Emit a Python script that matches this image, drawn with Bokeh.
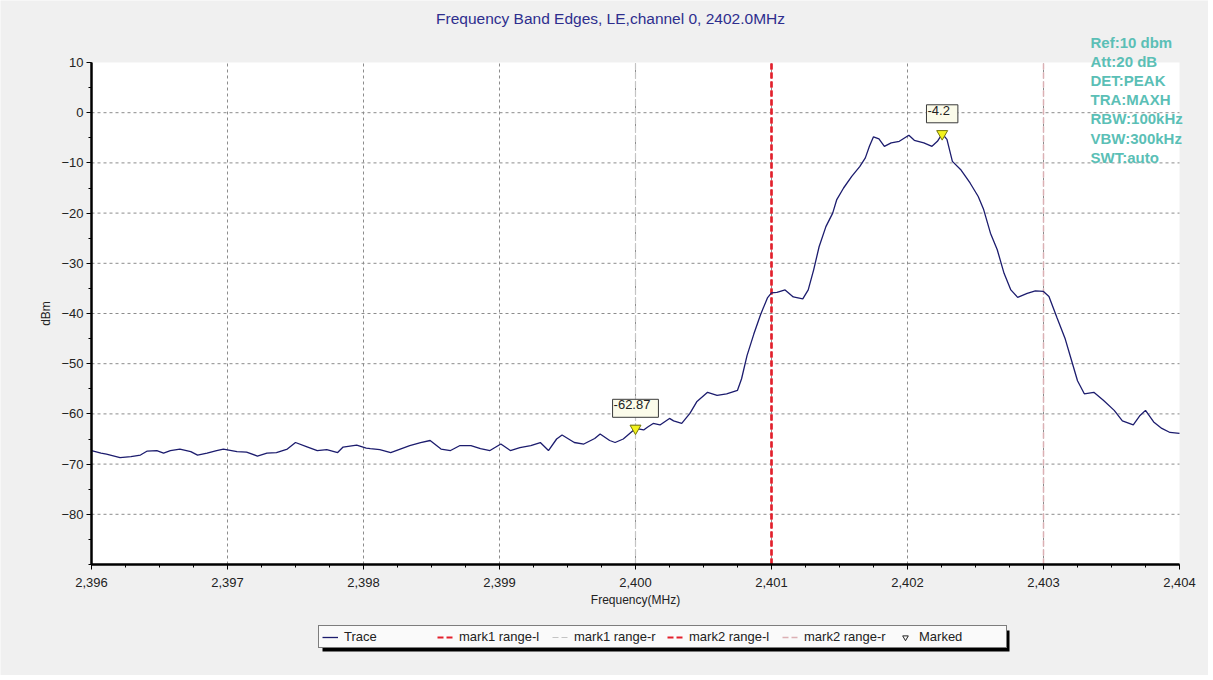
from bokeh.plotting import figure
from bokeh.models import (Range1d, FixedTicker, NumeralTickFormatter, Label,
                          Legend, LegendItem)
from bokeh.embed import file_html
from bokeh.resources import INLINE

# ---------------- data ----------------
freq_mhz = [
    2396.00, 2396.07, 2396.11, 2396.21, 2396.29, 2396.36, 2396.41, 2396.48,
    2396.53, 2396.58, 2396.65, 2396.73, 2396.78, 2396.85, 2396.92, 2396.97,
    2397.07, 2397.14, 2397.22, 2397.29, 2397.36, 2397.44, 2397.50, 2397.58,
    2397.66, 2397.73, 2397.81, 2397.85, 2397.95, 2398.02, 2398.05, 2398.12,
    2398.20, 2398.27, 2398.34, 2398.42, 2398.49, 2398.57, 2398.64, 2398.71,
    2398.79, 2398.86, 2398.93, 2399.01, 2399.08, 2399.15, 2399.23, 2399.30,
    2399.36, 2399.42, 2399.46, 2399.55, 2399.62, 2399.70, 2399.74, 2399.81,
    2399.85, 2399.91, 2400.00, 2400.06, 2400.09, 2400.13, 2400.18, 2400.25,
    2400.28, 2400.34, 2400.40, 2400.45, 2400.53, 2400.60, 2400.67, 2400.75,
    2400.78, 2400.82, 2400.87, 2400.92, 2400.97, 2401.00, 2401.04, 2401.10,
    2401.16, 2401.23, 2401.27, 2401.31, 2401.35, 2401.40, 2401.45, 2401.48,
    2401.53, 2401.59, 2401.65, 2401.69, 2401.72, 2401.75, 2401.79, 2401.83,
    2401.88, 2401.94, 2402.01, 2402.05, 2402.12, 2402.18, 2402.22, 2402.255,
    2402.29, 2402.33, 2402.39, 2402.46, 2402.52, 2402.56, 2402.61, 2402.66,
    2402.71, 2402.76, 2402.81, 2402.88, 2402.94, 2403.00, 2403.04, 2403.10,
    2403.16, 2403.21, 2403.25, 2403.30, 2403.37, 2403.44, 2403.52, 2403.58,
    2403.66, 2403.71, 2403.75, 2403.81, 2403.87, 2403.93, 2404.00,
]
level_dbm = [
    -67.3, -67.8, -68.0, -68.7, -68.5, -68.2, -67.4, -67.3,
    -67.8, -67.3, -67.0, -67.5, -68.2, -67.8, -67.3, -67.0,
    -67.5, -67.6, -68.4, -67.8, -67.7, -67.0, -65.7, -66.5,
    -67.3, -67.1, -67.7, -66.6, -66.2, -66.8, -66.9, -67.1,
    -67.7, -67.0, -66.3, -65.7, -65.3, -67.0, -67.3, -66.3,
    -66.3, -66.9, -67.3, -66.0, -67.3, -66.7, -66.3, -65.7,
    -67.3, -65.0, -64.2, -65.7, -66.0, -64.9, -64.0, -65.3,
    -65.7, -65.0, -62.9, -63.2, -62.6, -61.9, -62.2, -60.9,
    -61.4, -61.9, -59.9, -57.6, -55.7, -56.3, -56.0, -55.3,
    -53.0, -48.4, -44.1, -40.2, -36.9, -35.9, -35.8, -35.3,
    -36.7, -37.1, -35.3, -31.3, -26.7, -22.7, -20.0, -17.3,
    -15.0, -12.7, -10.7, -9.0, -6.7, -4.8, -5.2, -6.7,
    -6.0, -5.7, -4.5, -5.5, -6.0, -6.7, -5.7, -4.2,
    -5.3, -9.7, -11.3, -14.0, -16.7, -19.3, -24.0, -27.3,
    -32.0, -35.3, -36.8, -36.0, -35.5, -35.6, -36.6, -40.9,
    -45.1, -49.7, -53.4, -56.0, -55.7, -57.3, -59.3, -61.4,
    -62.2, -60.3, -59.3, -61.6, -62.9, -63.7, -63.9,
]

marked_freq = [2400.00, 2402.255]
marked_level = [-62.87, -4.2]
marked_text = ["-62.87", "-4.2"]

mark_names = ["mark1 range-l", "mark1 range-r", "mark2 range-l", "mark2 range-r"]
mark_freq = [2401.0, 2400.0, 2401.0, 2403.0]

x_ticks = [2396, 2397, 2398, 2399, 2400, 2401, 2402, 2403, 2404]
y_ticks = [10, 0, -10, -20, -30, -40, -50, -60, -70, -80]
x_lo, x_hi = 2396, 2404
y_lo, y_hi = -90, 10

title_text = "Frequency Band Edges, LE,channel 0, 2402.0MHz"
info_lines = ["Ref:10 dbm", "Att:20 dB", "DET:PEAK", "TRA:MAXH",
              "RBW:100kHz", "VBW:300kHz", "SWT:auto"]

# ---------------- layout / styles ----------------
FONT = "Liberation Sans"
W, H = 1208, 675
PLOT_L, PLOT_R, PLOT_T, PLOT_B = 91, 1179, 62, 564     # white plot area, px
px_per_x = (PLOT_R - PLOT_L) / (x_hi - x_lo)
px_per_y = (PLOT_B - PLOT_T) / (y_hi - y_lo)


def px_to_x(px):
    return x_lo + (px - PLOT_L) / px_per_x


def py_to_y(py):
    return y_lo - (py - PLOT_B) / px_per_y


# the frame covers the whole figure; axes are pinned to the plot-area edges,
# so that title, info text and legend around it are not clipped
view_x = (px_to_x(0), px_to_x(W))
view_y = (py_to_y(H), py_to_y(0))

mark_colors = ["#e3202c", "#c4c4c4", "#e3202c", "#dcb0b4"]
mark_widths = [2.2, 1.2, 2.2, 1.5]

p = figure(width=W, height=H,
           x_range=Range1d(*view_x), y_range=Range1d(*view_y),
           output_backend="svg", toolbar_location=None,
           min_border=0, min_border_left=0, min_border_right=0,
           min_border_top=0, min_border_bottom=0,
           background_fill_color="#f0f0f0", border_fill_color="#f0f0f0",
           outline_line_color=None)
p.grid.visible = False

# white plot area
p.quad(left=[x_lo], right=[x_hi], bottom=[y_lo], top=[y_hi],
       fill_color="white", line_color=None)

# dashed grid
p.multi_line(xs=[[t, t] for t in x_ticks[1:-1]],
             ys=[[y_lo, y_hi] for _ in x_ticks[1:-1]],
             line_color="#8c8c8c", line_dash="3 3", line_width=1)
p.multi_line(xs=[[x_lo, x_hi] for _ in y_ticks[1:]],
             ys=[[t, t] for t in y_ticks[1:]],
             line_color="#8c8c8c", line_dash="3 3", line_width=1)

# axes
for ax in (p.xaxis[0], p.yaxis[0]):
    ax.axis_line_color = "black"
    ax.axis_line_width = 2.5
    ax.major_tick_line_color = "black"
    ax.minor_tick_line_color = "black"
    ax.major_tick_in = 0
    ax.minor_tick_in = 0
    ax.major_tick_out = 5
    ax.minor_tick_out = 3
    ax.major_label_text_font = FONT
    ax.major_label_text_font_size = "13px"
    ax.major_label_text_color = "#222222"
    ax.axis_label_text_font = FONT
    ax.axis_label_text_font_size = "12px"
    ax.axis_label_text_font_style = "normal"
    ax.axis_label_text_color = "#222222"

p.xaxis.fixed_location = y_lo
p.xaxis.bounds = (x_lo, x_hi)
p.xaxis.ticker = FixedTicker(ticks=x_ticks,
                             minor_ticks=[x_lo + 0.25 * i for i in range(33)])
p.xaxis.formatter = NumeralTickFormatter(format="0,0")
p.xaxis.axis_label = "Frequency(MHz)"
p.xaxis.major_label_standoff = 8
p.xaxis.axis_label_standoff = 3

p.yaxis.fixed_location = x_lo
p.yaxis.bounds = (y_lo, y_hi)
p.yaxis.ticker = FixedTicker(ticks=y_ticks, minor_ticks=list(range(y_lo, y_hi + 1, 5)))
p.yaxis.axis_label = "dBm"
p.yaxis.major_label_standoff = 3
p.yaxis.axis_label_standoff = 5

# marker range lines
mark_renderers = []
for name, f, c, w in zip(mark_names, mark_freq, mark_colors, mark_widths):
    r = p.line([f, f], [y_lo, y_hi], line_color=c, line_width=w, line_dash="6 3")
    mark_renderers.append(r)

# trace
trace = p.line(freq_mhz, level_dbm, line_color="#1c1c6e", line_width=1.3)

# marked points: hollow symbol (used as legend key) under the yellow markers
marked_key = p.scatter(marked_freq, marked_level, marker="inverted_triangle", size=9,
                       fill_color=None, line_color="#222222", line_width=1)
marked = p.scatter(marked_freq, marked_level, marker="inverted_triangle", size=11,
                   fill_color="#f2f21c", line_color="#7a7a10", line_width=1)

for f, v, t in zip(marked_freq, marked_level, marked_text):
    p.add_layout(Label(x=f, y=v, text=t, y_offset=20,
                       text_align="center", text_baseline="middle",
                       text_font=FONT, text_font_size="13px", text_color="#222222",
                       background_fill_color="#fbfbea", border_line_color="#3a3a3a",
                       border_line_width=1, padding=(1, 8, 1, 8)))

# title and instrument settings
p.add_layout(Label(x=px_to_x(610), y=py_to_y(18),
                   text=title_text, text_align="center",
                   text_baseline="middle", text_font=FONT,
                   text_font_size="15.5px", text_color="#2e2e8e"))
p.add_layout(Label(x=px_to_x(1090), y=py_to_y(33),
                   text="\n".join(info_lines),
                   text_align="left", text_baseline="top", text_font=FONT,
                   text_font_size="15px", text_font_style="bold",
                   text_line_height=1.13, text_color="#5bbfb6"))

# legend below the x axis, with a drop shadow
LEG_L, LEG_R, LEG_T, LEG_B = 318, 1006, 626, 648
p.quad(left=[px_to_x(LEG_L + 4)], right=[px_to_x(LEG_R + 3)],
       top=[py_to_y(LEG_T + 4)], bottom=[py_to_y(LEG_B + 3)],
       fill_color="black", line_color=None)

items = [LegendItem(label="Trace", renderers=[trace])]
for name, r in zip(mark_names, mark_renderers):
    items.append(LegendItem(label=name, renderers=[r]))
items.append(LegendItem(label="Marked", renderers=[marked_key]))
legend = Legend(items=items, orientation="horizontal", location=(LEG_L, H - LEG_B),
                glyph_width=16, glyph_height=14, label_height=14, label_width=84,
                label_standoff=6, spacing=9, padding=3, margin=0,
                label_text_font=FONT, label_text_font_size="13px",
                label_text_color="#222222",
                background_fill_color="#fafafa", background_fill_alpha=1,
                border_line_color="black", border_line_width=1)
p.add_layout(legend)

open("out.html", "w").write(file_html(p, INLINE))
